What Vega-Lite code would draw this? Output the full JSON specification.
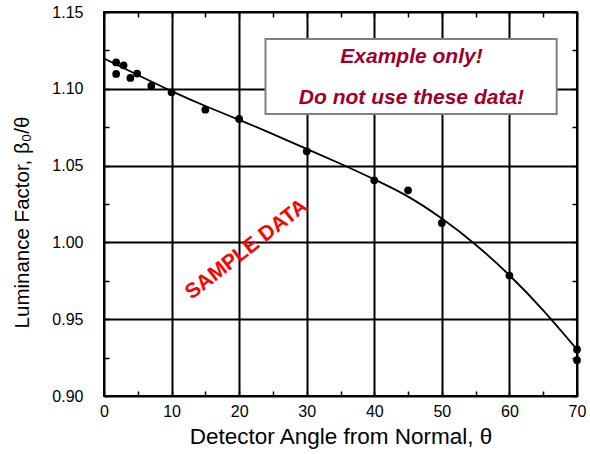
{
  "$schema": "https://vega.github.io/schema/vega-lite/v6.json",
  "autosize": {"type": "none"},
  "padding": {"left": 104, "top": 12, "right": 13, "bottom": 58},
  "width": 473,
  "height": 384,
  "background": "white",
  "config": {
    "view": {"stroke": "black", "strokeWidth": 2},
    "font": "Liberation Sans",
    "axis": {"labelFont": "Liberation Sans", "titleFont": "Liberation Sans", "labelColor": "black", "titleColor": "black", "domain": false, "tickColor": "black", "tickWidth": 1.5, "gridColor": "black", "gridWidth": 2}
  },
  "datasets": {
    "points": [
      {"angle": 1.8, "factor": 1.1172},
      {"angle": 2.9, "factor": 1.1153},
      {"angle": 1.8, "factor": 1.1097},
      {"angle": 3.9, "factor": 1.1071},
      {"angle": 4.9, "factor": 1.1099},
      {"angle": 7.0, "factor": 1.1019},
      {"angle": 10.0, "factor": 1.0977},
      {"angle": 15.0, "factor": 1.0864},
      {"angle": 20.0, "factor": 1.0804},
      {"angle": 30.0, "factor": 1.0593},
      {"angle": 40.0, "factor": 1.0404},
      {"angle": 45.0, "factor": 1.0339},
      {"angle": 50.0, "factor": 1.0127},
      {"angle": 60.0, "factor": 0.9784},
      {"angle": 70.0, "factor": 0.9303},
      {"angle": 70.0, "factor": 0.9233}
    ],
    "curve": [
      {"angle": 0, "factor": 1.1197},
      {"angle": 5, "factor": 1.1090},
      {"angle": 10, "factor": 1.0985},
      {"angle": 15, "factor": 1.0888},
      {"angle": 20, "factor": 1.0798},
      {"angle": 25, "factor": 1.0705},
      {"angle": 30, "factor": 1.0609},
      {"angle": 35, "factor": 1.0512},
      {"angle": 40, "factor": 1.0410},
      {"angle": 45, "factor": 1.0298},
      {"angle": 50, "factor": 1.0155},
      {"angle": 55, "factor": 0.9985},
      {"angle": 60, "factor": 0.9786},
      {"angle": 65, "factor": 0.9558},
      {"angle": 70, "factor": 0.9303}
    ],
    "box": [{"x1": 23.9, "x2": 67.0, "y1": 1.1324, "y2": 1.0836}],
    "notes": [
      {"angle": 45.5, "factor": 1.1209, "label": "Example only!"},
      {"angle": 45.5, "factor": 1.0942, "label": "Do not use these data!"}
    ],
    "stamp": [{"angle": 21.1, "factor": 0.9953, "label": "SAMPLE DATA"}]
  },
  "resolve": {"axis": {"x": "independent", "y": "independent"}},
  "layer": [
    {
      "data": {"name": "box"},
      "mark": {"type": "rect", "fill": "#ffffff", "stroke": "#808080", "strokeWidth": 2, "opacity": 1, "fillOpacity": 1},
      "encoding": {
        "x": {"field": "x1", "type": "quantitative", "scale": {"domain": [0, 70], "nice": false},
          "axis": {"orient": "bottom", "values": [0,5,10,15,20,25,30,35,40,45,50,55,60,65,70],
            "labelExpr": "datum.value % 10 == 0 ? format(datum.value, 'd') : ''",
            "grid": true, "gridOpacity": {"condition": {"test": "datum.value % 10 == 0", "value": 1}, "value": 0},
            "tickSize": -5, "labelPadding": 12, "labelFontSize": 16, "labelFlush": false,
            "title": "Detector Angle from Normal, θ", "titleFontSize": 22.5, "titleFontWeight": "normal", "titlePadding": 6}},
        "x2": {"field": "x2"},
        "y": {"field": "y1", "type": "quantitative", "scale": {"domain": [0.9, 1.15], "nice": false, "zero": false},
          "axis": {"orient": "left", "values": [0.9,0.925,0.95,0.975,1.0,1.025,1.05,1.075,1.1,1.125,1.15],
            "labelExpr": "round(datum.value*40) % 2 == 0 ? format(datum.value, '.2f') : ''",
            "grid": true, "gridOpacity": {"condition": {"test": "round(datum.value*40) % 2 == 0", "value": 1}, "value": 0},
            "tickSize": -5, "labelPadding": 26, "labelFontSize": 16, "labelFlush": false,
            "title": "Luminance Factor, β₀/θ", "titleFontSize": 20.5, "titleFontWeight": "normal", "titlePadding": 19, "titleY": 210}},
        "y2": {"field": "y2"}
      }
    },
    {
      "data": {"name": "curve"},
      "mark": {"type": "line", "color": "black", "strokeWidth": 1.8, "interpolate": "natural"},
      "encoding": {
        "x": {"field": "angle", "type": "quantitative",
          "axis": {"orient": "top", "values": [0,5,10,15,20,25,30,35,40,45,50,55,60,65,70], "labels": false, "grid": false, "tickSize": -5, "title": null}},
        "y": {"field": "factor", "type": "quantitative",
          "axis": {"orient": "right", "values": [0.9,0.925,0.95,0.975,1.0,1.025,1.05,1.075,1.1,1.125,1.15], "labels": false, "grid": false, "tickSize": -5, "title": null}}
      }
    },
    {
      "data": {"name": "points"},
      "mark": {"type": "point", "filled": true, "color": "black", "size": 60, "opacity": 1},
      "encoding": {
        "x": {"field": "angle", "type": "quantitative", "axis": null},
        "y": {"field": "factor", "type": "quantitative", "axis": null}
      }
    },
    {
      "data": {"name": "notes"},
      "mark": {"type": "text", "color": "#a0002a", "fontSize": 21, "fontWeight": "bold", "fontStyle": "italic", "font": "Liberation Sans"},
      "encoding": {
        "x": {"field": "angle", "type": "quantitative", "axis": null},
        "y": {"field": "factor", "type": "quantitative", "axis": null},
        "text": {"field": "label"}
      }
    },
    {
      "data": {"name": "stamp"},
      "mark": {"type": "text", "color": "#ff0000", "fontSize": 21, "fontWeight": "bold", "font": "Liberation Sans", "angle": 322},
      "encoding": {
        "x": {"field": "angle", "type": "quantitative", "axis": null},
        "y": {"field": "factor", "type": "quantitative", "axis": null},
        "text": {"field": "label"}
      }
    }
  ]
}
